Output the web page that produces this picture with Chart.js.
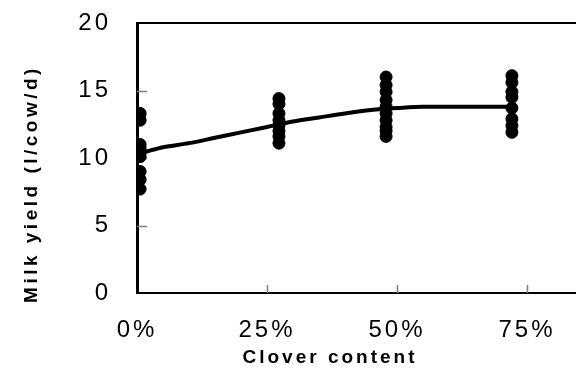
<!DOCTYPE html>
<html>
<head>
<meta charset="utf-8">
<script src="https://cdn.jsdelivr.net/npm/chart.js"></script>
<style>
  html, body { margin: 0; padding: 0; background: #fff; overflow: hidden; }
  #wrap { width: 576px; height: 381px; overflow: hidden; }
</style>
</head>
<body>
<div id="wrap"><canvas id="chart" width="700" height="381"></canvas></div>
<script>
// clover share of the sward for each group of cows
const cloverLevels = [0.006, 0.273, 0.479, 0.721];
// milk yield (l/cow/d) of the single cows in each group
const yieldAt0  = [13.3, 12.8, 11.0, 10.7, 10.4, 10.1, 9.0, 8.4, 7.7];
const yieldAt25 = [14.4, 14.0, 13.3, 12.8, 12.4, 12.0, 11.6, 11.1];
const yieldAt50 = [16.0, 15.4, 14.9, 14.3, 13.8, 13.3, 12.8, 12.3, 12.0, 11.6];
const yieldAt75 = [16.1, 15.6, 14.9, 14.5, 13.7, 12.9, 12.4, 11.9];
// fitted response curve
const fitX = [0.006, 0.02, 0.05, 0.10, 0.15, 0.20, 0.25, 0.30, 0.35, 0.40, 0.45, 0.50, 0.55, 0.60, 0.65, 0.721];
const fitY = [10.35, 10.5, 10.8, 11.1, 11.5, 11.9, 12.3, 12.7, 13.0, 13.3, 13.55, 13.7, 13.8, 13.8, 13.8, 13.8];
const yTicks = [0, 5, 10, 15, 20];
const xTitle = 'Clover content';
const yTitle = 'Milk yield (l/cow/d)';

const groups = [yieldAt0, yieldAt25, yieldAt50, yieldAt75];
const cows = [];
groups.forEach((vals, i) => vals.forEach(v => cows.push({ x: cloverLevels[i], y: v })));
const fit = fitX.map((x, i) => ({ x, y: fitY[i] }));

const FONT = "'Liberation Sans', Arial, sans-serif";

// inward grey tick marks, closed top edge, axis titles
const frame = {
  id: 'frame',
  beforeDraw(chart) { chart.ctx.letterSpacing = '3px'; },
  beforeDatasetsDraw(chart) {
    const { ctx, chartArea: a, scales: { x, y } } = chart;
    ctx.save();
    ctx.strokeStyle = '#808080';
    ctx.lineWidth = 1.5;
    ctx.beginPath();
    y.ticks.forEach(t => {
      if (t.value <= y.min || t.value >= y.max) return;
      const py = Math.round(y.getPixelForValue(t.value)) + 0.5;
      ctx.moveTo(a.left, py); ctx.lineTo(a.left + 10, py);
    });
    x.ticks.forEach(t => {
      if (t.value <= x.min || t.value >= x.max) return;
      const px = Math.round(x.getPixelForValue(t.value)) + 0.5;
      ctx.moveTo(px, a.bottom); ctx.lineTo(px, a.bottom - 8);
    });
    ctx.stroke();
    ctx.strokeStyle = '#000';
    ctx.lineWidth = 2;
    ctx.beginPath();
    ctx.moveTo(a.left - 1, a.top); ctx.lineTo(a.right, a.top);
    ctx.stroke();
    ctx.restore();
  },
  afterDraw(chart) {
    const ctx = chart.ctx;
    ctx.save();
    ctx.fillStyle = '#000';
    ctx.textAlign = 'center';
    ctx.textBaseline = 'middle';
    ctx.letterSpacing = '3px';
    ctx.font = 'bold 19px ' + FONT;
    ctx.fillText(xTitle, 330, 358);
    ctx.translate(32, 184);
    ctx.rotate(-Math.PI / 2);
    ctx.letterSpacing = '3.5px';
    ctx.fillText(yTitle, 0, 0);
    ctx.restore();
  }
};

new Chart(document.getElementById('chart'), {
  type: 'scatter',
  data: {
    datasets: [
      { label: 'fit', data: fit, showLine: true, borderColor: '#000', borderWidth: 4,
        pointRadius: 0, cubicInterpolationMode: 'monotone', order: 1 },
      { label: 'cows', data: cows, backgroundColor: '#000', borderColor: '#000',
        pointRadius: 6, pointHoverRadius: 6, order: 2 }
    ]
  },
  options: {
    responsive: false,
    animation: false,
    events: [],
    layout: { padding: { top: 23, right: 43, left: 0, bottom: 0 } },
    plugins: { legend: { display: false }, tooltip: { enabled: false } },
    scales: {
      x: {
        type: 'linear', min: 0, max: 1,
        afterFit: s => { s.height = 88; s.paddingLeft = 0; s.paddingRight = 0; },
        grid: { display: false, drawTicks: false },
        border: { display: true, color: '#000', width: 2 },
        ticks: {
          stepSize: 0.25, padding: 23, color: '#000',
          font: { family: FONT, size: 24 },
          callback: v => v <= 0.8 ? Math.round(v * 100) + '%' : ''
        }
      },
      y: {
        type: 'linear', min: yTicks[0], max: yTicks[yTicks.length - 1],
        afterFit: s => { s.width = 137; s.paddingTop = 0; s.paddingBottom = 0; },
        afterBuildTicks: s => { s.ticks = yTicks.map(v => ({ value: v })); },
        grid: { display: false, drawTicks: false },
        border: { display: true, color: '#000', width: 3 },
        ticks: { padding: 26, color: '#000', font: { family: FONT, size: 24 } }
      }
    }
  },
  plugins: [frame]
});
</script>
</body>
</html>
